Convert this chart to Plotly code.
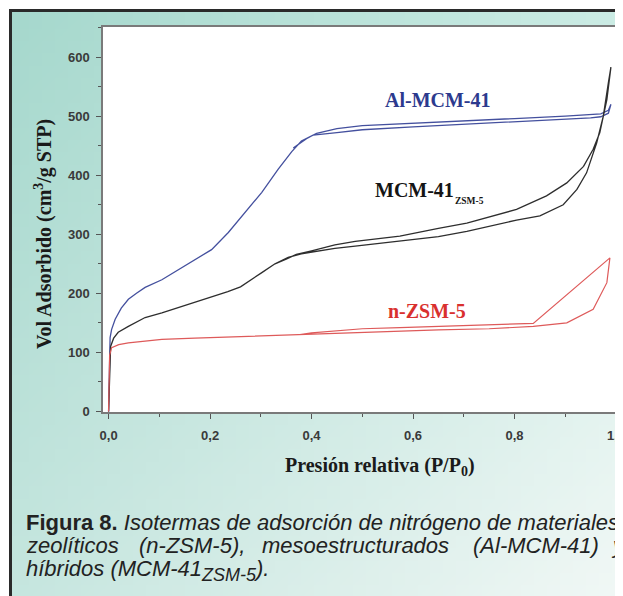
import base64
import struct
import zlib

import plotly.graph_objects as go

# ---------------- data ----------------
# Al-MCM-41 (blue)
al_ads_x = [0, 0.001, 0.002, 0.003, 0.006, 0.013, 0.025, 0.039, 0.055, 0.072, 0.105, 0.137,
            0.170, 0.203, 0.236, 0.269, 0.302, 0.334, 0.350, 0.361, 0.380, 0.403, 0.45, 0.5,
            0.6, 0.7, 0.8, 0.9, 0.95, 0.97, 0.985, 0.99]
al_ads_y = [0, 50, 100, 125, 139, 156, 175, 190, 200, 210, 223, 240,
            257, 274, 303, 337, 371, 410, 428, 440, 458, 468, 472, 477,
            482, 486, 490, 494, 497, 499, 505, 520]
al_des_x = [0.99, 0.985, 0.97, 0.9, 0.8, 0.7, 0.6, 0.5, 0.45, 0.41, 0.39, 0.375, 0.364]
al_des_y = [520, 510, 504, 500, 496, 492, 489, 484, 479, 471, 462, 452, 446]

# MCM-41 ZSM-5 (black)
mz_ads_x = [0, 0.001, 0.002, 0.004, 0.01, 0.019, 0.039, 0.072, 0.105, 0.138, 0.170, 0.203,
            0.235, 0.26, 0.28, 0.302, 0.328, 0.354, 0.38, 0.40, 0.446, 0.486, 0.574, 0.65,
            0.706, 0.75, 0.804, 0.85, 0.896, 0.923, 0.942, 0.962, 0.975, 0.985, 0.99]
mz_ads_y = [0, 40, 85, 110, 124, 134, 144, 159, 167, 176, 185, 195,
            203, 211, 222, 235, 250, 261, 267, 270, 276, 280, 288, 296,
            305, 313, 324, 331, 350, 376, 404, 455, 500, 557, 583]
mz_des_x = [0.99, 0.982, 0.968, 0.955, 0.936, 0.903, 0.863, 0.804, 0.706, 0.65, 0.574,
            0.486, 0.446, 0.40, 0.37, 0.35, 0.328]
mz_des_y = [583, 528, 472, 444, 415, 387, 365, 342, 319, 310, 297,
            288, 282, 272, 266, 258, 250]

# n-ZSM-5 (red)
nz_ads_x = [0, 0.001, 0.002, 0.006, 0.02, 0.039, 0.07, 0.105, 0.17, 0.236, 0.3, 0.367,
            0.45, 0.5, 0.574, 0.65, 0.75, 0.837, 0.903, 0.955, 0.982, 0.988]
nz_ads_y = [0, 40, 95, 108, 113, 116, 119, 122, 124, 126, 128, 130,
            132, 134, 136, 138, 140, 144, 150, 173, 218, 260]
nz_des_x = [0.988, 0.837, 0.7, 0.574, 0.5, 0.45, 0.4, 0.377]
nz_des_y = [260, 149, 146, 142, 140, 137, 133, 130]

series_names = ["Al-MCM-41", "MCM-41", "n-ZSM-5"]
series_sub = "ZSM-5"
x_title = "Presión relativa (P/P<sub>0</sub>)"
y_title = "Vol Adsorbido (cm<sup>3</sup>/g STP)"
y_ticks = [0, 100, 200, 300, 400, 500, 600]
x_ticks = [0.0, 0.2, 0.4, 0.6, 0.8, 1.0]

# ---------------- layout helpers ----------------
OFF = 8                              # page body margin
L, R, T, B = 103, 616, 27, 412       # plot box in page pixels
W, H = 623, 596


def px(x):
    return (x - L) / (R - L)


def py(y):
    return (B - y) / (B - T)


def gradient_png(w, h, tl, tr, bl, br):
    rows = []
    for j in range(h):
        v = j / (h - 1)
        row = bytearray([0])
        for i in range(w):
            u = i / (w - 1)
            for c in range(3):
                val = ((1 - u) * (1 - v) * tl[c] + u * (1 - v) * tr[c]
                       + (1 - u) * v * bl[c] + u * v * br[c])
                row.append(int(round(val)))
        rows.append(bytes(row))
    raw = b"".join(rows)

    def chunk(t, d):
        c = struct.pack(">I", len(d)) + t + d
        return c + struct.pack(">I", zlib.crc32(t + d) & 0xffffffff)

    png = (b"\x89PNG\r\n\x1a\n"
           + chunk(b"IHDR", struct.pack(">IIBBBBB", w, h, 8, 2, 0, 0, 0))
           + chunk(b"IDAT", zlib.compress(raw))
           + chunk(b"IEND", b""))
    return "data:image/png;base64," + base64.b64encode(png).decode()


bg_src = gradient_png(48, 48, (166, 216, 205), (204, 236, 229),
                      (198, 230, 223), (242, 248, 246))

fig = go.Figure()

fig.add_trace(go.Scatter(x=al_ads_x + al_des_x, y=al_ads_y + al_des_y, mode="lines",
                         line=dict(color="#44509e", width=1.3), showlegend=False))
fig.add_trace(go.Scatter(x=mz_ads_x + mz_des_x, y=mz_ads_y + mz_des_y, mode="lines",
                         line=dict(color="#2e2e2e", width=1.3), showlegend=False))
fig.add_trace(go.Scatter(x=nz_ads_x + nz_des_x, y=nz_ads_y + nz_des_y, mode="lines",
                         line=dict(color="#de5a5a", width=1.2), showlegend=False))

serif_bold = dict(family="Liberation Serif", size=20, weight="bold")
sans = "Liberation Sans"
cap = dict(family=sans, size=22, color="#222222")

annotations = [
    # series labels
    dict(x=px(437.5), y=py(100), text=series_names[0],
         font=dict(serif_bold, color="#2c3a8e")),
    dict(x=px(414.5), y=py(190), text=series_names[1],
         font=dict(serif_bold, color="#151515")),
    dict(x=px(469), y=py(201), text=series_sub,
         font=dict(family="Liberation Serif", size=9.5, weight="bold", color="#151515")),
    dict(x=px(427), y=py(311), text=series_names[2],
         font=dict(serif_bold, color="#d9302e")),
    # axis titles
    dict(x=px(380), y=py(466), text=x_title,
         font=dict(family="Liberation Serif", size=20, weight="bold", color="#1a1a1a")),
    dict(x=px(43), y=py(234), text=y_title, textangle=-90,
         font=dict(family="Liberation Serif", size=20, weight="bold", color="#1a1a1a")),
    # caption
    dict(x=px(24), y=py(522), xanchor="left",
         text="<b>Figura 8.</b> <i>Isotermas de adsorción de nitrógeno de materiales</i>",
         font=cap),
    dict(x=px(24), y=py(545), xanchor="left", text="<i>zeolíticos</i>", font=cap),
    dict(x=px(137), y=py(545), xanchor="left", text="<i>(n-ZSM-5),</i>", font=cap),
    dict(x=px(260), y=py(545), xanchor="left", text="<i>mesoestructurados</i>", font=cap),
    dict(x=px(471), y=py(545), xanchor="left", text="<i>(Al-MCM-41)</i>", font=cap),
    dict(x=px(609), y=py(545), xanchor="left", text="<i>y</i>", font=cap),
    dict(x=px(24), y=py(570), xanchor="left",
         text="<i>híbridos (MCM-41<sub><span style='font-size:18px'>ZSM-5</span></sub>).</i>",
         font=cap),
]
for a in annotations:
    a.setdefault("xanchor", "center")
    a.update(xref="paper", yref="paper", yanchor="middle", showarrow=False)

fig.update_layout(
    width=W, height=H, autosize=False,
    margin=dict(l=L - OFF, r=W - (R - OFF), t=T - OFF, b=H - (B - OFF), pad=0),
    paper_bgcolor="white", plot_bgcolor="white",
    separators=", ",
    images=[dict(source=bg_src, xref="paper", yref="paper", x=px(10), y=py(10),
                 sizex=(W + OFF - 10) / (R - L), sizey=(H + OFF - 10) / (B - T),
                 xanchor="left", yanchor="top", sizing="stretch", layer="below")],
    shapes=[
        dict(type="rect", xref="paper", yref="paper", x0=0, x1=1, y0=0, y1=1,
             fillcolor="white", line=dict(width=0), layer="below"),
        dict(type="rect", xref="paper", yref="paper", x0=px(10.5), y0=py(660),
             x1=px(680), y1=py(10.5), line=dict(color="#2a2a2a", width=3),
             fillcolor="rgba(0,0,0,0)", layer="above"),
    ],
    annotations=annotations,
    xaxis=dict(range=[-0.011, 1.0], tickvals=x_ticks, tickformat=".1f", automargin=False,
               showgrid=False, zeroline=False, showline=True, mirror=True,
               linecolor="#7a7a7a", linewidth=1.5, ticks="outside", ticklen=5,
               tickcolor="#555555", tickwidth=1, ticklabelstandoff=6,
               minor=dict(dtick=0.1, ticks="outside", ticklen=3, tickcolor="#555555"),
               tickfont=dict(family=sans, size=13, weight="bold", color="#3a3a3a")),
    yaxis=dict(range=[-1, 651], tickvals=y_ticks, automargin=False,
               showgrid=False, zeroline=False, showline=True, mirror=True,
               linecolor="#7a7a7a", linewidth=1.5, ticks="outside", ticklen=5,
               tickcolor="#555555", tickwidth=1, ticklabelstandoff=4,
               minor=dict(dtick=50, ticks="outside", ticklen=3, tickcolor="#555555"),
               tickfont=dict(family=sans, size=13, weight="bold", color="#3a3a3a")),
)

fig.write_html("out.html")
